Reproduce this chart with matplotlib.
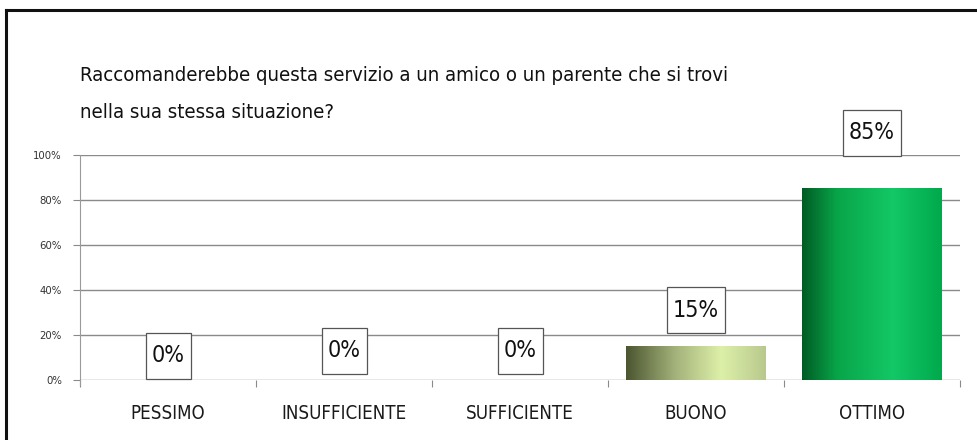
import matplotlib
matplotlib.use("Agg")
import matplotlib.pyplot as plt
import numpy as np
from matplotlib.colors import LinearSegmentedColormap
from matplotlib.lines import Line2D
from matplotlib.patches import Rectangle
from matplotlib.transforms import blended_transform_factory
from matplotlib import font_manager as fm

categories = ["PESSIMO", "INSUFFICIENTE", "SUFFICIENTE", "BUONO", "OTTIMO"]
values = [0.0, 0.0, 0.0, 0.15, 0.85]
value_labels = ["0%", "0%", "0%", "15%", "85%"]
yticks = [0, 0.2, 0.4, 0.6, 0.8, 1.0]
ytick_labels = ["0%", "20%", "40%", "60%", "80%", "100%"]
title_lines = ["Raccomanderebbe questa servizio a un amico o un parente che si trovi",
               "nella sua stessa situazione?"]

# pick a narrow (Calibri-like) font if one is available
chosen, stretch, condensed = "Lato", "normal", False
for fam, st, key in [("Liberation Sans Narrow", "normal", "narrow"),
                     ("Noto Sans", "condensed", "condensed"),
                     ("Open Sans", "condensed", "condensed"),
                     ("DejaVu Sans", "condensed", "condensed")]:
    try:
        p = fm.findfont(fm.FontProperties(family=fam, stretch=st), fallback_to_default=False)
        if key in p.lower():
            chosen, stretch, condensed = fam, st, True
            break
    except Exception:
        continue
plt.rcParams["font.family"] = [chosen, "DejaVu Sans"]
plt.rcParams["font.stretch"] = stretch

W, H = 977, 440
fig = plt.figure(figsize=(W / 100, H / 100), dpi=100)
ax = fig.add_axes([80 / W, 1 - 380 / H, 880 / W, 225 / H])

fig.add_artist(Line2D([6 / W, 6 / W], [0, 1 - 10 / H], transform=fig.transFigure, color="#111111", lw=2.2))
fig.add_artist(Line2D([6 / W, 1], [1 - 10 / H, 1 - 10 / H], transform=fig.transFigure, color="#111111", lw=2.2))

ax.set_xlim(-0.5, 4.5)
ax.set_ylim(0, 1.0)
px_x = 880 / 5.0   # pixels per category unit
px_y = 225 / 1.0   # pixels per 100%

for y in yticks:
    ax.axhline(y, color="#8a8a8a", lw=1.0, zorder=1)

cmaps = {
    3: LinearSegmentedColormap.from_list("b", [(0, "#4b5530"), (0.35, "#a3b27a"), (0.68, "#ddf0a8"), (1, "#b9c98e")]),
    4: LinearSegmentedColormap.from_list("o", [(0, "#005c25"), (0.25, "#08a548"), (0.65, "#13c866"), (1, "#00a94c")]),
}
width = 0.79
grad = np.linspace(0, 1, 256).reshape(1, -1)
for i, v in enumerate(values):
    if v <= 0:
        continue
    x0 = i - width / 2
    cm = cmaps.get(i, cmaps[4])
    ax.imshow(grad, cmap=cm, aspect="auto", extent=[x0, x0 + width, 0, v], zorder=2, interpolation="bicubic")

fig.canvas.draw()
renderer = fig.canvas.get_renderer()


def fit_size(text, target_px, base=12.0):
    t = fig.text(0, 0, text, fontsize=base)
    w = t.get_window_extent(renderer).width
    t.remove()
    return base * target_px / w


boost = 1.0 if condensed else 1.1
lab_fs = fit_size("85%", 46) * boost
cat_fs = fit_size("INSUFFICIENTE", 125) * (1.0 if condensed else 1.15)
tick_fs = fit_size("100%", 29)
title_fs = fit_size(title_lines[0], 648) * boost

label_centers = [0.107, 0.13, 0.13, 0.31, 1.098]
box_h = 46 / px_y
for i, (v, lab) in enumerate(zip(values, value_labels)):
    yc = label_centers[i] if v <= 0 else v + (label_centers[i] - v)
    t = ax.text(i, yc, lab, ha="center", va="center", fontsize=lab_fs, color="#111111", zorder=6)
    tw = t.get_window_extent(renderer).width
    bw = (tw + 12) / px_x
    ax.add_patch(Rectangle((i - bw / 2, yc - box_h / 2), bw, box_h, fc="white", ec="#555555", lw=0.9,
                           zorder=5, clip_on=False))

ax.set_yticks(yticks)
ax.set_yticklabels(ytick_labels, fontsize=tick_fs, color="#333333")
ax.set_xticks(np.arange(-0.5, 5, 1))
ax.set_xticklabels([])
ax.tick_params(axis="x", which="major", length=5, color="#8a8a8a", direction="out")
ax.tick_params(axis="y", length=5, color="#8a8a8a", pad=8)

trans = blended_transform_factory(ax.transData, ax.transAxes)
for i, c in enumerate(categories):
    ax.text(i, (380 - 419) / 225, c, ha="center", va="baseline", fontsize=cat_fs, color="#1a1a1a",
            transform=trans, clip_on=False)

for s in ["top", "right", "bottom"]:
    ax.spines[s].set_visible(False)
ax.spines["left"].set_color("#9a9a9a")
ax.spines["left"].set_bounds(-0.02, 1.0)

for k, (line, base_px) in enumerate(zip(title_lines, [81, 118])):
    fig.text(80 / W, 1 - base_px / H, line, fontsize=title_fs, color="#111111", ha="left", va="baseline")

fig.savefig("out.png", dpi=100)
